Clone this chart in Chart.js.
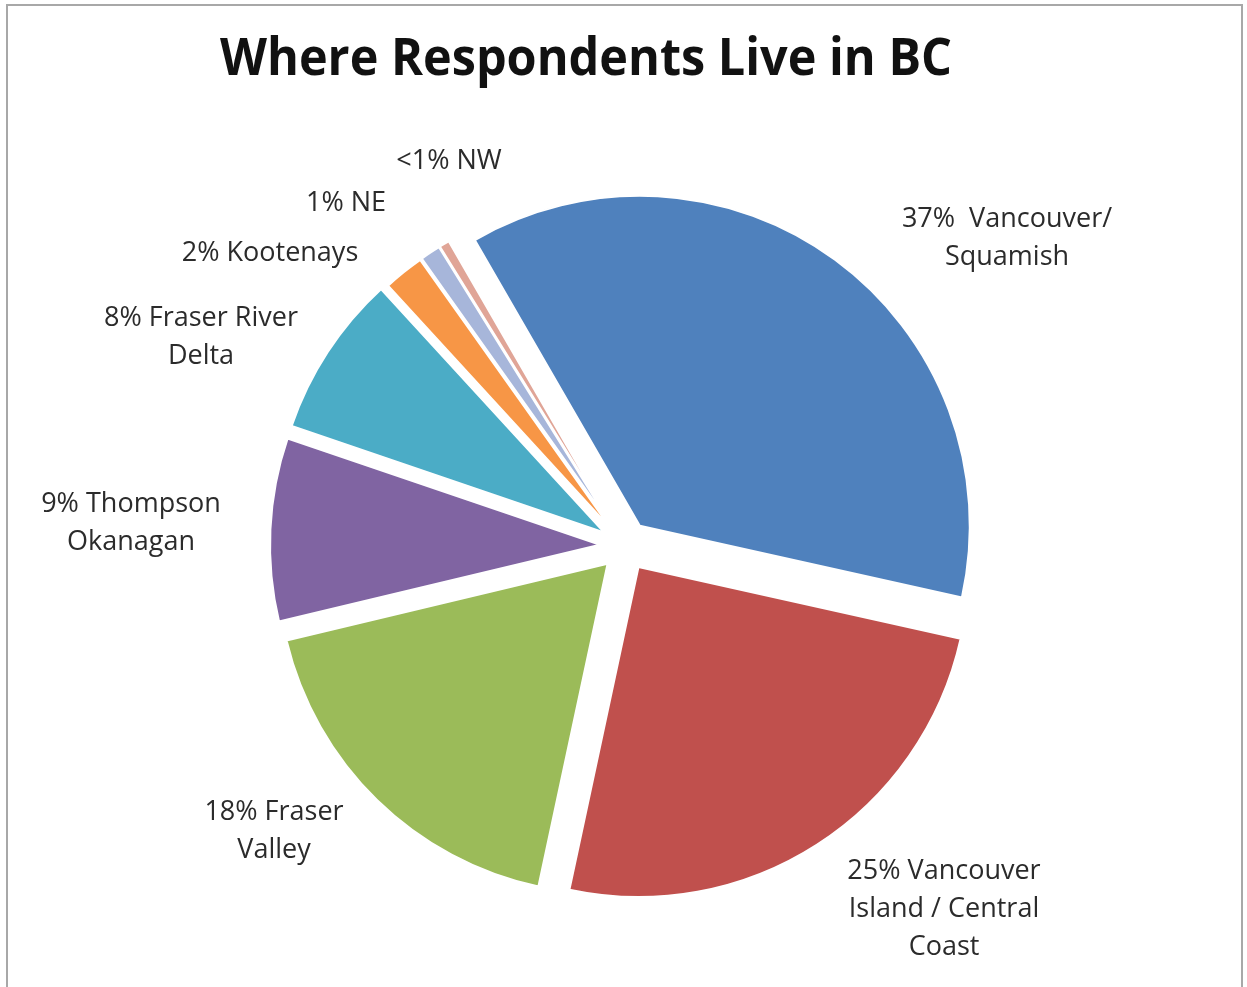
<!DOCTYPE html>
<html>
<head>
<meta charset="utf-8">
<title>Where Respondents Live in BC</title>
<script src="https://cdn.jsdelivr.net/npm/chart.js@4.4.1/dist/chart.umd.min.js"></script>
<style>
    html, body { margin: 0; padding: 0; background: #fff; }
    #wrap { position: relative; width: 1247px; height: 987px; overflow: hidden; }
    #frame {
        position: absolute; left: 6px; top: 4px; width: 1237px; height: 1000px;
        border: 2px solid #a8a8a8; box-sizing: border-box;
    }
    #chart { position: absolute; left: 0; top: 0; }
</style>
</head>
<body>
<div id="wrap">
    <div id="frame"></div>
    <canvas id="chart" width="1247" height="987"></canvas>
</div>
<script>
// Regions, clockwise from the top
const regions = ['Vancouver/Squamish', 'Vancouver Island / Central Coast', 'Fraser Valley',
    'Thompson Okanagan', 'Fraser River Delta', 'Kootenays', 'NE', 'NW'];
const shares = [37, 25, 18, 9, 8, 2, 1, 0.5];
const sliceColors = ['#4f81bd', '#c0504d', '#9bbb59', '#8064a2', '#4bacc6', '#f79646', '#a7b6da', '#e0a597'];

// Data label text, one entry per line
const labelLines = [
    ['37%  Vancouver/', 'Squamish'],
    ['25% Vancouver', 'Island / Central', 'Coast'],
    ['18% Fraser', 'Valley'],
    ['9% Thompson', 'Okanagan'],
    ['8% Fraser River', 'Delta'],
    ['2% Kootenays'],
    ['1% NE'],
    ['<1% NW']
];

// Where each label block sits, measured from the pie centre
const labelOffsets = [
    [382, -308], [319, 363], [-351, 285], [-494, -23],
    [-424, -209], [-355, -293], [-279, -343], [-176, -385]
];

// How far each slice is pulled out from the centre (px)
const explode = [25, 25, 25, 25, 25, 22, 22, 22];

const titleText = 'Where Respondents Live in BC';

// Pull every slice out along its middle angle, keeping its radius
const explodePlugin = {
    id: 'explodeSlices',
    beforeDatasetDraw(chart, args) {
        const ctx = chart.ctx;
        args.meta.data.forEach((arc, i) => {
            const mid = (arc.startAngle + arc.endAngle) / 2;
            ctx.save();
            ctx.translate(Math.cos(mid) * explode[i], Math.sin(mid) * explode[i]);
            arc.draw(ctx);
            ctx.restore();
        });
        return false;
    }
};

// Title and outside data labels
const labelPlugin = {
    id: 'bcLabels',
    afterDraw(chart) {
        const ctx = chart.ctx;
        const arcs = chart.getDatasetMeta(0).data;
        const cx = (chart.chartArea.left + chart.chartArea.right) / 2;
        const cy = (chart.chartArea.top + chart.chartArea.bottom) / 2;

        ctx.save();
        // title: bold, squeezed to a narrow width
        ctx.font = 'bold 52px "Open Sans"';
        ctx.fillStyle = '#111';
        ctx.textBaseline = 'alphabetic';
        ctx.textAlign = 'left';
        const tw = ctx.measureText(titleText).width;
        const targetW = 732;
        ctx.translate(220, 75);
        ctx.scale(targetW / tw, 1);
        ctx.fillText(titleText, 0, 0);
        ctx.restore();

        ctx.save();
        ctx.font = '27px "Open Sans"';
        ctx.fillStyle = '#2b2b2b';
        ctx.textAlign = 'center';
        ctx.textBaseline = 'middle';
        const lineH = 38;
        arcs.forEach((arc, i) => {
            const lines = labelLines[i];
            const x = cx + labelOffsets[i][0];
            const y0 = cy + labelOffsets[i][1] - (lines.length - 1) * lineH / 2;
            lines.forEach((t, j) => ctx.fillText(t, x, y0 + j * lineH));
        });
        ctx.restore();
    }
};

new Chart(document.getElementById('chart'), {
    type: 'pie',
    data: {
        labels: regions,
        datasets: [{
            data: shares,
            backgroundColor: sliceColors,
            borderColor: '#ffffff',
            borderWidth: 2
        }]
    },
    options: {
        responsive: false,
        animation: false,
        rotation: -30,
        radius: 330,
        layout: { padding: { left: 3, right: 0, top: 105, bottom: 0 } },
        plugins: {
            legend: { display: false },
            tooltip: { enabled: false },
            title: { display: false }
        }
    },
    plugins: [explodePlugin, labelPlugin]
});
</script>
</body>
</html>
